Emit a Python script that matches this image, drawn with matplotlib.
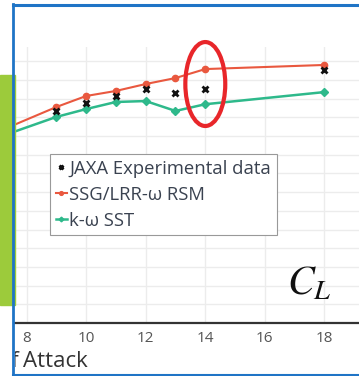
import matplotlib
matplotlib.use("Agg")
import matplotlib.pyplot as plt
from matplotlib.patches import Ellipse, Rectangle
from matplotlib.lines import Line2D

# angle of attack (deg) and lift coefficient
aoa_exp = [9, 10, 11, 12, 13, 14, 18]
cl_exp = [1.134, 1.176, 1.214, 1.251, 1.230, 1.251, 1.353]

aoa_cfd = [7, 9, 10, 11, 12, 13, 14, 18]
cl_rsm = [1.02, 1.155, 1.214, 1.241, 1.278, 1.310, 1.358, 1.380]
cl_sst = [0.99, 1.102, 1.144, 1.182, 1.187, 1.134, 1.170, 1.235]

x_ticks = [8, 10, 12, 14, 16, 18]
y_grid = [0.1 * i for i in range(1, 15)]

RED = "#e9583f"
GREEN = "#2eb98b"
BLUE = "#1f74c6"
W, H = 359, 376

plt.rcParams["font.family"] = ["Open Sans", "DejaVu Sans"]
plt.rcParams["mathtext.fontset"] = "stix"

fig = plt.figure(figsize=(W / 100, H / 100), dpi=100)
ax = fig.add_axes([15 / W, 1 - 323 / H, 1 - 15 / W, (323 - 47) / H])

ax.set_xlim(7.614, 19.158)
ax.set_ylim(0, 1.476)
ax.set_xticks(x_ticks)
ax.set_yticks(y_grid)
ax.tick_params(axis="x", length=0, pad=6, labelsize=11, labelcolor="#555555")
ax.tick_params(axis="y", length=0, labelleft=False)
ax.grid(True, color="#ececec", linewidth=1.0)
ax.set_axisbelow(True)
for s in ["top", "right", "left"]:
    ax.spines[s].set_visible(False)
ax.spines["bottom"].set_color("#333333")
ax.spines["bottom"].set_linewidth(1.6)

ax.plot(aoa_cfd, cl_rsm, color=RED, lw=1.5, marker="o", ms=4.5,
        label="SSG/LRR-ω RSM", zorder=3)
ax.plot(aoa_cfd, cl_sst, color=GREEN, lw=1.8, marker="D", ms=4,
        label="k-ω SST", zorder=3)
ax.plot(aoa_exp, cl_exp, ls="none", color="#111111", marker="x", ms=4,
        mew=2, label="JAXA Experimental data", zorder=4)

handles, labels = ax.get_legend_handles_labels()
order = [2, 0, 1]
leg = ax.legend([handles[i] for i in order], [labels[i] for i in order],
                loc="upper left", bbox_to_anchor=(50 / W, 1 - 154 / H),
                bbox_transform=fig.transFigure, fontsize=13.3, markerscale=0.6,
                handlelength=0.6, handletextpad=0.15, labelspacing=0.44,
                borderpad=0.3, borderaxespad=0, fancybox=False,
                framealpha=1, edgecolor="#999999", labelcolor="#3a4250")
leg.get_frame().set_linewidth(0.8)

# red highlight ring around the 14 deg points
ax.add_patch(Ellipse((14, 1.278), 1.34, 0.449, fill=False,
                     edgecolor="#e8262a", lw=3, zorder=5, clip_on=False))

ax.text(309 / W, 1 - 284 / H, "$C_L$", transform=fig.transFigure,
        fontsize=29, ha="center", va="center", color="#111111")

# x axis title, partly cut off by the slide frame
clip = Rectangle((15 / W, 0), 1, 1, transform=fig.transFigure)
t1 = fig.text(19 / W, 1 - 367 / H, "Angle of", fontsize=16, color="#333333",
              ha="right", va="baseline")
t1.set_clip_path(clip)
fig.text(23 / W, 1 - 367 / H, "Attack", fontsize=16, color="#333333",
         ha="left", va="baseline")

# slide decorations: blue frame and green side bar
fig.add_artist(Line2D([13 / W, 13 / W], [0, 1 - 4 / H], color=BLUE, lw=2.0))
fig.add_artist(Line2D([13 / W, 1], [1 - 5 / H, 1 - 5 / H], color=BLUE, lw=2.2))
fig.add_artist(Line2D([13 / W, 1], [1 - 375 / H, 1 - 375 / H], color=BLUE, lw=1.5))
fig.add_artist(Rectangle((0, 1 - 305 / H), 15 / W, (305 - 75) / H,
                         transform=fig.transFigure, color="#9ccb3b"))

fig.savefig("out.png", dpi=100)
